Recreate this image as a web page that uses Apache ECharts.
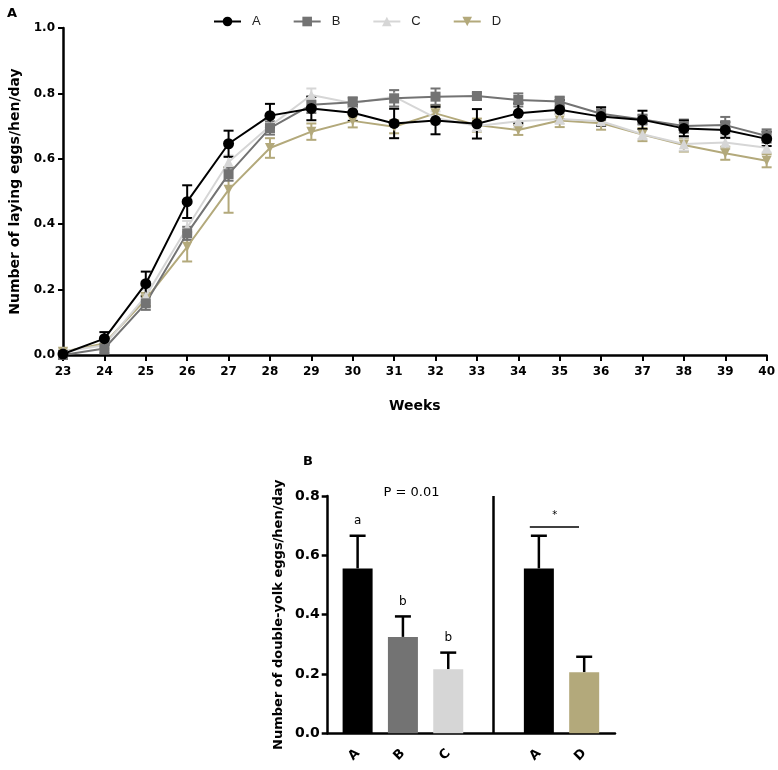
<!DOCTYPE html>
<html>
<head>
<meta charset="utf-8">
<script src="https://cdn.jsdelivr.net/npm/echarts@6/dist/echarts.min.js"></script>
<style>html,body{margin:0;padding:0;background:#fff}#c{width:778px;height:770px}</style>
</head>
<body>
<div id="c"></div>
<script>
// ---- Panel A data ----
const weeks = [23,24,25,26,27,28,29,30,31,32,33,34,35,36,37,38,39,40];
const seriesA = [0.003,0.05,0.218,0.469,0.646,0.732,0.754,0.741,0.708,0.717,0.707,0.739,0.750,0.729,0.719,0.693,0.688,0.661];
const errA    = [0.008,0.02,0.037,0.05,0.04,0.036,0.036,0.025,0.045,0.042,0.045,0.03,0.03,0.028,0.028,0.024,0.024,0.022];
const seriesB = [0.0,0.02,0.158,0.372,0.553,0.694,0.765,0.773,0.785,0.79,0.792,0.78,0.775,0.738,0.72,0.70,0.703,0.67];
const errB    = [0.005,0.015,0.02,0.02,0.02,0.02,0.025,0.015,0.025,0.025,0.01,0.02,0.015,0.02,0.015,0.02,0.025,0.02];
const seriesC = [0.01,0.03,0.18,0.39,0.59,0.70,0.795,0.77,0.79,0.725,0.70,0.715,0.722,0.715,0.675,0.645,0.65,0.634];
const errC    = [0.01,0.015,0.02,0.02,0.02,0.015,0.02,0.015,0.02,0.02,0.015,0.02,0.015,0.015,0.015,0.02,0.02,0.015];
const seriesD = [0.01,0.035,0.17,0.331,0.505,0.633,0.683,0.716,0.698,0.739,0.703,0.688,0.717,0.709,0.674,0.642,0.617,0.594];
const errD    = [0.01,0.015,0.02,0.045,0.07,0.03,0.025,0.02,0.02,0.025,0.02,0.015,0.02,0.02,0.02,0.02,0.02,0.02];

// ---- Panel B data ----
const barPos     = [1,2,3,5,6];
const barNames   = ['A','B','C','A','D'];
const barValues  = [0.556,0.325,0.216,0.556,0.206];
const barErr     = [0.11,0.069,0.056,0.11,0.052];
const barLetters = ['a','b','b','',''];
const pText = 'P = 0.01';
const sigText = '*';

const colA = '#000000', colB = '#737373', colC = '#d6d6d6', colD = '#b3a97b';
const barColors = [colA, colB, colC, colA, colD];
const boldFont = 'DejaVu Sans';

function errRender(color){
  return function(params, api){
    const x = api.value(0), v = api.value(1), e = api.value(2);
    const t = api.coord([x, v + e]), b = api.coord([x, v - e]);
    const hw = 5, st = {stroke: color, lineWidth: 2};
    return {type:'group', children:[
      {type:'line', shape:{x1:t[0],y1:t[1],x2:b[0],y2:b[1]}, style:st},
      {type:'line', shape:{x1:t[0]-hw,y1:t[1],x2:t[0]+hw,y2:t[1]}, style:st},
      {type:'line', shape:{x1:b[0]-hw,y1:b[1],x2:b[0]+hw,y2:b[1]}, style:st}
    ]};
  };
}
function barErrRender(params, api){
  const x = api.value(0), v = api.value(1), e = api.value(2);
  const t = api.coord([x, v + e]), b = api.coord([x, v]);
  const hw = 8, st = {stroke:'#000', lineWidth:2.5};
  return {type:'group', children:[
    {type:'line', shape:{x1:t[0],y1:t[1],x2:b[0],y2:b[1]}, style:st},
    {type:'line', shape:{x1:t[0]-hw,y1:t[1],x2:t[0]+hw,y2:t[1]}, style:st}
  ]};
}
function mkLine(name, vals, color, symbol, rot, size){
  return {type:'line', name:name, xAxisIndex:0, yAxisIndex:0,
    data: weeks.map((w,i)=>[w, vals[i]]),
    symbol: symbol, symbolSize: size, symbolRotate: rot, showAllSymbol:true,
    lineStyle:{color:color, width:2}, itemStyle:{color:color},
    emphasis:{disabled:true}, animation:false, clip:false};
}
function mkErr(name, vals, errs, color){
  return {type:'custom', name:name, xAxisIndex:0, yAxisIndex:0,
    data: weeks.map((w,i)=>[w, vals[i], errs[i]]),
    renderItem: errRender(color), animation:false, silent:true};
}

const chart = echarts.init(document.getElementById('c'), null, {renderer:'canvas'});
const axisLbl = {color:'#000', fontFamily:boldFont, fontWeight:'bold', fontSize:12};

const option = {
  animation:false,
  title:[
    {text:'A', left:2, top:2, textStyle:{fontFamily:boldFont, fontWeight:'bold', fontSize:13, color:'#000'}},
    {text:'B', left:298, top:450, textStyle:{fontFamily:boldFont, fontWeight:'bold', fontSize:13, color:'#000'}}
  ],
  legend:{
    data:['A','B','C','D'], left:208, top:10, itemWidth:27, itemHeight:12, itemGap:32,
    textStyle:{fontFamily:'Liberation Sans', fontSize:13, color:'#222', padding:[0,0,0,6]},
    selectedMode:false
  },
  grid:[
    {left:63, top:28, width:711, height:327},
    {left:327.7, top:496, width:287.3, height:237.3}
  ],
  xAxis:[
    {type:'value', gridIndex:0, min:23, max:40, interval:1,
     name:'Weeks', nameLocation:'middle', nameGap:44,
     nameTextStyle:{fontFamily:boldFont, fontWeight:'bold', fontSize:14, color:'#000'},
     axisLine:{lineStyle:{color:'#000', width:2.5}},
     axisTick:{show:true, length:6, lineStyle:{color:'#000', width:2}},
     axisLabel:Object.assign({margin:11}, axisLbl),
     splitLine:{show:false}},
    {type:'value', gridIndex:1, min:0.34, max:6.68,
     axisLine:{lineStyle:{color:'#000', width:2.5}},
     axisTick:{show:false},
     axisLabel:Object.assign({margin:18, rotate:45, customValues:barPos,
        formatter:function(v){ const i = barPos.indexOf(Math.round(v)); return i>=0 ? barNames[i] : ''; }}, axisLbl, {fontSize:13}),
     splitLine:{show:false}}
  ],
  yAxis:[
    {type:'value', gridIndex:0, min:0, max:1, interval:0.2,
     name:'Number of laying eggs/hen/day', nameLocation:'middle', nameGap:41,
     nameTextStyle:{fontFamily:boldFont, fontWeight:'bold', fontSize:14, color:'#000'},
     axisLine:{show:true, lineStyle:{color:'#000', width:2.5}},
     axisTick:{show:true, length:5, lineStyle:{color:'#000', width:2}},
     axisLabel:Object.assign({margin:8, formatter:v=>v.toFixed(1)}, axisLbl),
     splitLine:{show:false}},
    {type:'value', gridIndex:1, min:0, max:0.8, interval:0.2,
     name:'Number of double-yolk eggs/hen/day', nameLocation:'middle', nameGap:43,
     nameTextStyle:{fontFamily:boldFont, fontWeight:'bold', fontSize:13, color:'#000'},
     axisLine:{show:true, lineStyle:{color:'#000', width:2.5}},
     axisTick:{show:true, length:6, lineStyle:{color:'#000', width:2.5}},
     axisLabel:Object.assign({margin:8, formatter:v=>v.toFixed(1)}, axisLbl, {fontSize:14}),
     splitLine:{show:false}}
  ],
  series:[
    mkErr('Derr', seriesD, errD, colD),
    mkLine('D', seriesD, colD, 'triangle', 180, 10),
    mkErr('Cerr', seriesC, errC, colC),
    mkLine('C', seriesC, colC, 'triangle', 0, 10),
    mkErr('Berr', seriesB, errB, colB),
    mkLine('B', seriesB, colB, 'rect', 0, 10),
    mkErr('Aerr', seriesA, errA, colA),
    mkLine('A', seriesA, colA, 'circle', 0, 11),
    {type:'bar', name:'bars', xAxisIndex:1, yAxisIndex:1, barWidth:30,
     data: barPos.map((p,i)=>({value:[p, barValues[i]], itemStyle:{color:barColors[i]}})),
     silent:true,
     markLine:{silent:true, symbol:'none', label:{show:false}, precision:3,
       data:[
         [{coord:[4,0], lineStyle:{color:'#000', width:2.5, type:'solid'}}, {coord:[4,0.8]}],
         [{coord:[4.8,0.697], lineStyle:{color:'#000', width:1.5, type:'solid'}}, {coord:[5.886,0.697]}]
       ]},
     markPoint:{silent:true, symbol:'circle', symbolSize:0,
       label:{show:true, color:'#000', fontFamily:'DejaVu Sans', fontSize:12},
       data: barPos.map((p,i)=>({coord:[p, barValues[i]+barErr[i]+0.05], value:barLetters[i],
                 label:{formatter:barLetters[i]}})).filter((d,i)=>barLetters[i]!=='')
             .concat([
               {coord:[2.19, 0.79], label:{formatter:pText, fontSize:13, offset:[0,-6]}},
               {coord:[5.35, 0.735], label:{formatter:sigText, fontSize:10}}
             ])
     }},
    {type:'custom', name:'barErr', xAxisIndex:1, yAxisIndex:1,
     data: barPos.map((p,i)=>[p, barValues[i], barErr[i]]),
     renderItem: barErrRender, silent:true}
  ]
};
chart.setOption(option);
</script>
</body>
</html>
